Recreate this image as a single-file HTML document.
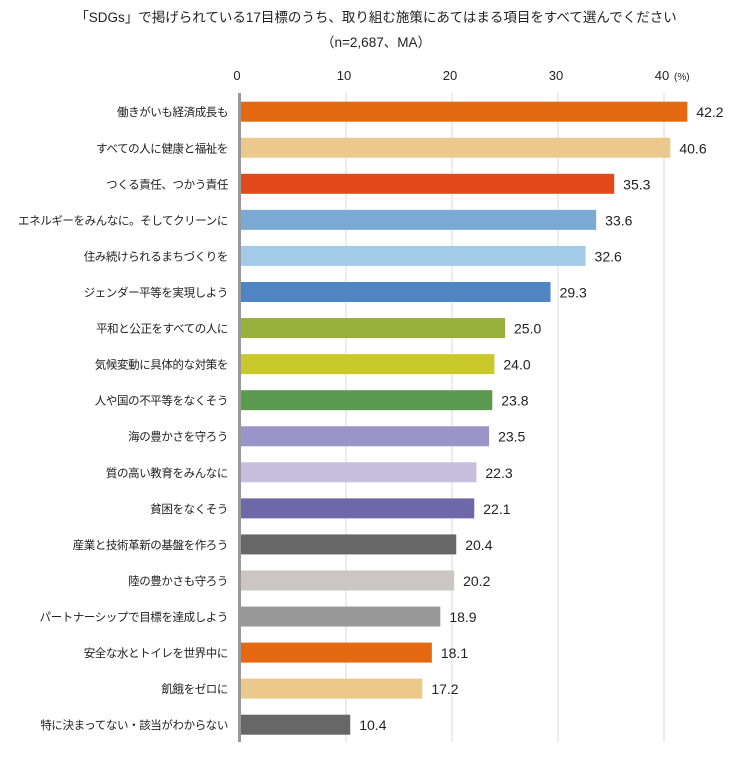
<!DOCTYPE html>
<html><head><meta charset="utf-8"><style>
body{margin:0;background:#fff;}
svg{display:block;font-family:"Liberation Sans","Noto Sans CJK JP",sans-serif;}
</style></head><body>
<svg id="c" width="752" height="767">
<text x="376" y="22" text-anchor="middle" font-size="13.5" fill="#222">「SDGs」で掲げられている17目標のうち、取り組む施策にあてはまる項目をすべて選んでください</text>
<text x="376" y="47" text-anchor="middle" font-size="13.5" fill="#222">（n=2,687、MA）</text>
</svg>
<script>
const categories=["働きがいも経済成長も","すべての人に健康と福祉を","つくる責任、つかう責任","エネルギーをみんなに。そしてクリーンに","住み続けられるまちづくりを","ジェンダー平等を実現しよう","平和と公正をすべての人に","気候変動に具体的な対策を","人や国の不平等をなくそう","海の豊かさを守ろう","質の高い教育をみんなに","貧困をなくそう","産業と技術革新の基盤を作ろう","陸の豊かさも守ろう","パートナーシップで目標を達成しよう","安全な水とトイレを世界中に","飢餓をゼロに","特に決まってない・該当がわからない"];
const values=[42.2,40.6,35.3,33.6,32.6,29.3,25.0,24.0,23.8,23.5,22.3,22.1,20.4,20.2,18.9,18.1,17.2,10.4];
const colors=["#e56812","#ebc98c","#e34a1b","#7aaad4","#a3cbe8","#4f86c2","#97b03c","#c9c92c","#5b9b50","#9b94c8","#c6bfde","#6e67a8","#676767","#cbc6c3","#999999","#e56812","#ebc98c","#676767"];
const ticks=[0,10,20,30,40];
const svg=document.getElementById('c');
const NS='http://www.w3.org/2000/svg';
const x=v=>240+v*10.6;
const y=i=>111.7+i*36.06;
function mk(t,a){const e=document.createElementNS(NS,t);for(const k in a)e.setAttribute(k,a[k]);svg.appendChild(e);return e;}
ticks.forEach(t=>{
 if(t>0){const g=mk('line',{x1:x(t),x2:x(t),y1:93,y2:742,stroke:'#d9d9d9','stroke-width':1});
 
 }
 const l=mk('text',{x:x(t)-(t?2:3),y:80,'text-anchor':'middle','font-size':13,fill:'#222'});l.textContent=t;
 
 
});
const u=mk('text',{x:674,y:80,'font-size':10,fill:'#222'});u.textContent='(%)';


categories.forEach((c,i)=>{
 const r=mk('rect',{x:x(0),y:y(i)-10,width:x(values[i])-x(0),height:20,fill:colors[i]});
 
 
 const t=mk('text',{x:228,y:y(i)+4.5,'text-anchor':'end','font-size':11.5,'letter-spacing':'-0.4',fill:'#222'});t.textContent=c;
 
 
 const v=mk('text',{x:x(values[i])+9,y:y(i)+5.5,'font-size':14,fill:'#222'});v.textContent=values[i].toFixed(1);
 
 
});
const ax=mk('line',{x1:239.5,x2:239.5,y1:93,y2:742,stroke:'#999','stroke-width':3});


</script>
</body></html>
